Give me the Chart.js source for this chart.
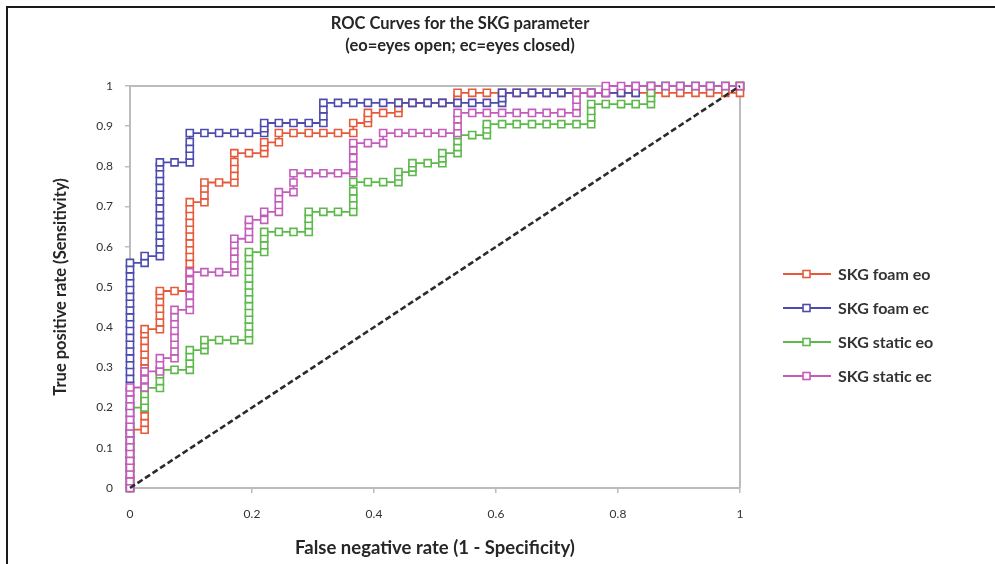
<!DOCTYPE html>
<html>
<head>
<meta charset="utf-8">
<script src="https://cdn.jsdelivr.net/npm/chart.js@4.4.1/dist/chart.umd.min.js"></script>
<style>
  html, body { margin: 0; padding: 0; background: #fff; }
  #wrap { width: 995px; height: 564px; }
</style>
</head>
<body>
<div id="wrap"><canvas id="roc" width="995" height="564"></canvas></div>
<script>

// series names / colours (legend order)
const seriesNames = ['SKG foam eo', 'SKG foam ec', 'SKG static eo', 'SKG static ec'];
const seriesColors = ['#e65a3c', '#4c4cae', '#5db94b', '#c35cba'];

// tick labels
const xTickValues = [0, 0.2, 0.4, 0.6, 0.8, 1];
const xTickLabels = ['0', '0.2', '0.4', '0.6', '0.8', '1'];
const yTickValues = [0, 0.1, 0.2, 0.3, 0.4, 0.5, 0.6, 0.7, 0.8, 0.9, 1];
const yTickLabels = ['0', '0.1', '0.2', '0.3', '0.4', '0.5', '0.6', '0.7', '0.8', '0.9', '1'];

// [false positive rate, true positive rate]
const foamEo = [
  [0,0],[0,.017],[0,.034],[0,.051],[0,.068],[0,.085],[0,.102],[0,.119],[0,.136],[0,.145],
  [.024,.145],[.024,.162],[.024,.179],[.024,.196],[.024,.213],[.024,.23],[.024,.247],[.024,.264],
  [.024,.281],[.024,.298],[.024,.315],[.024,.332],[.024,.349],[.024,.366],[.024,.383],[.024,.395],
  [.049,.395],[.049,.412],[.049,.429],[.049,.446],[.049,.463],[.049,.48],[.049,.49],
  [.073,.49],
  [.098,.49],[.098,.507],[.098,.524],[.098,.541],[.098,.558],[.098,.575],[.098,.592],[.098,.609],
  [.098,.626],[.098,.643],[.098,.66],[.098,.677],[.098,.694],[.098,.711],
  [.122,.711],[.122,.728],[.122,.745],[.122,.76],
  [.146,.76],
  [.171,.76],[.171,.777],[.171,.794],[.171,.811],[.171,.833],
  [.195,.833],
  [.22,.833],[.22,.848],[.22,.86],
  [.244,.86],[.244,.883],
  [.268,.883],[.293,.883],[.317,.883],[.341,.883],[.366,.883],[.366,.908],
  [.39,.908],[.39,.92],[.39,.933],
  [.415,.933],[.44,.933],[.44,.945],[.44,.958],
  [.463,.958],[.488,.958],[.512,.958],[.537,.958],[.537,.97],[.537,.983],
  [.561,.983],[.585,.983],[.61,.983],[.634,.983],[.659,.983],[.683,.983],[.707,.983],[.732,.983],
  [.756,.983],[.78,.983],[.805,.983],[.829,.983],[.854,.983],[.878,.983],[.902,.983],[.927,.983],
  [.951,.983],[.976,.983],[1,.983],[1,1]
];

const foamEc = [
  [0,0],[0,.017],[0,.034],[0,.051],[0,.068],[0,.085],[0,.102],[0,.119],[0,.136],[0,.153],
  [0,.17],[0,.187],[0,.204],[0,.221],[0,.238],[0,.255],[0,.272],[0,.289],[0,.306],[0,.323],
  [0,.34],[0,.357],[0,.374],[0,.391],[0,.408],[0,.425],[0,.442],[0,.459],[0,.476],[0,.493],
  [0,.51],[0,.527],[0,.544],[0,.56],
  [.024,.56],[.024,.577],
  [.049,.577],[.049,.594],[.049,.611],[.049,.628],[.049,.645],[.049,.662],[.049,.679],[.049,.696],
  [.049,.713],[.049,.73],[.049,.747],[.049,.764],[.049,.781],[.049,.798],[.049,.81],
  [.073,.81],
  [.098,.81],[.098,.827],[.098,.844],[.098,.861],[.098,.883],
  [.122,.883],[.146,.883],[.171,.883],[.195,.883],[.22,.883],[.22,.895],[.22,.908],
  [.244,.908],[.268,.908],[.293,.908],[.317,.908],[.317,.925],[.317,.942],[.317,.958],
  [.341,.958],[.366,.958],[.39,.958],[.415,.958],[.44,.958],[.463,.958],[.488,.958],[.512,.958],
  [.537,.958],[.561,.958],[.585,.958],[.61,.958],[.61,.97],[.61,.983],
  [.634,.983],[.659,.983],[.683,.983],[.707,.983],[.732,.983],[.756,.983],[.78,.983],[.805,.983],
  [.829,.983],[.829,1],
  [.854,1],[.878,1],[.902,1],[.927,1],[.951,1],[.976,1],[1,1]
];

const staticEo = [
  [0,0],[0,.05],[0,.1],[0,.15],[0,.2],
  [.024,.2],[.024,.217],[.024,.234],[.024,.249],
  [.049,.249],[.049,.266],[.049,.283],[.049,.294],
  [.073,.294],
  [.098,.294],[.098,.31],[.098,.327],[.098,.343],
  [.122,.343],[.122,.356],[.122,.368],
  [.146,.368],[.171,.368],
  [.195,.368],[.195,.385],[.195,.402],[.195,.419],[.195,.436],[.195,.453],[.195,.47],[.195,.487],
  [.195,.504],[.195,.521],[.195,.538],[.195,.555],[.195,.572],[.195,.587],
  [.22,.587],[.22,.604],[.22,.621],[.22,.637],
  [.244,.637],[.268,.637],[.293,.637],[.293,.654],[.293,.67],[.293,.687],
  [.317,.687],[.341,.687],[.366,.687],[.366,.704],[.366,.721],[.366,.738],[.366,.761],
  [.39,.761],[.415,.761],[.44,.761],[.44,.775],[.44,.786],
  [.463,.786],[.463,.797],[.463,.808],
  [.488,.808],[.512,.808],[.512,.82],[.512,.833],
  [.537,.833],[.537,.848],[.537,.863],[.537,.878],
  [.561,.878],[.585,.878],[.585,.892],[.585,.905],
  [.61,.905],[.634,.905],[.659,.905],[.683,.905],[.707,.905],[.732,.905],[.756,.905],
  [.756,.922],[.756,.938],[.756,.955],
  [.78,.955],[.805,.955],[.829,.955],[.854,.955],[.854,.97],[.854,.983],[.854,1],
  [.878,1],[.902,1],[.927,1],[.951,1],[.976,1],[1,1]
];

const staticEc = [
  [0,0],[0,.017],[0,.034],[0,.051],[0,.068],[0,.085],[0,.102],[0,.119],[0,.136],[0,.153],
  [0,.17],[0,.187],[0,.204],[0,.221],[0,.238],[0,.25],
  [.024,.25],[.024,.27],[.024,.29],
  [.049,.29],[.049,.307],[.049,.323],
  [.073,.323],[.073,.34],[.073,.357],[.073,.374],[.073,.391],[.073,.408],[.073,.425],[.073,.443],
  [.098,.443],[.098,.46],[.098,.479],[.098,.498],[.098,.517],[.098,.537],
  [.122,.537],[.146,.537],
  [.171,.537],[.171,.554],[.171,.571],[.171,.588],[.171,.605],[.171,.62],
  [.195,.62],[.195,.637],[.195,.654],[.195,.667],
  [.22,.667],[.22,.687],
  [.244,.687],[.244,.704],[.244,.721],[.244,.736],
  [.268,.736],[.268,.76],[.268,.783],
  [.293,.783],[.317,.783],[.341,.783],[.366,.783],[.366,.802],[.366,.821],[.366,.84],[.366,.858],
  [.39,.858],[.415,.858],[.415,.883],
  [.44,.883],[.463,.883],[.488,.883],[.512,.883],[.537,.883],[.537,.9],[.537,.917],[.537,.933],
  [.561,.933],[.585,.933],[.61,.933],[.634,.933],[.659,.933],[.683,.933],[.707,.933],[.732,.933],
  [.732,.95],[.732,.966],[.732,.983],
  [.756,.983],[.78,.983],[.78,1],
  [.805,1],[.829,1],[.854,1],[.878,1],[.902,1],[.927,1],[.951,1],[.976,1],[1,1]
];

// reference (chance) line
const chanceLine = [[0,0],[1,1]];

const rocSets = [foamEo, foamEc, staticEo, staticEc];

function toPoints(arr) {
    return arr.map(function(p) { return { x: p[0], y: p[1] }; });
}

const FONT = 'Lato, "Open Sans", sans-serif';

// frame, title and legend drawn around the plot
const decorPlugin = {
    id: 'decor',
    beforeDraw(chart) {
        const c = chart.ctx;
        c.save();
        c.fillStyle = '#fff';
        c.fillRect(0, 0, chart.width, chart.height);
        c.strokeStyle = '#1a1a1a';
        c.lineWidth = 2;
        c.beginPath();
        c.moveTo(7, chart.height);
        c.lineTo(7, 7);
        c.lineTo(chart.width, 7);
        c.stroke();
        c.restore();
    },
    beforeDatasetsDraw(chart) {
        const a = chart.chartArea;
        const c = chart.ctx;
        c.save();
        c.strokeStyle = '#bcbcbc';
        c.lineWidth = 2;
        c.beginPath();
        c.moveTo(a.left, a.top);
        c.lineTo(a.right, a.top);
        c.lineTo(a.right, a.bottom);
        c.stroke();
        c.restore();
    },
    afterDraw(chart) {
        const c = chart.ctx;
        c.save();
        // title
        c.fillStyle = '#262626';
        c.textAlign = 'center';
        c.textBaseline = 'middle';
        c.font = 'bold 16.5px ' + FONT;
        c.fillText('ROC Curves for the SKG parameter', 460, 24);
        c.fillText('(eo=eyes open; ec=eyes closed)', 460, 46);

        // legend
        const rows = [274, 308, 342, 376];
        c.textAlign = 'left';
        c.font = 'bold 16px ' + FONT;
        seriesNames.forEach(function(name, i) {
            const y = rows[i];
            c.strokeStyle = seriesColors[i];
            c.lineWidth = 2;
            c.beginPath();
            c.moveTo(783, y);
            c.lineTo(831, y);
            c.stroke();
            c.fillStyle = '#fff';
            c.lineWidth = 1.6;
            c.fillRect(803, y - 3.5, 7, 7);
            c.strokeRect(803, y - 3.5, 7, 7);
            c.fillStyle = '#333';
            c.fillText(name, 838, y + 1);
        });
        c.restore();
    }
};

const datasets = rocSets.map(function(pts, i) {
    return {
        label: seriesNames[i],
        data: toPoints(pts),
        showLine: true,
        borderColor: seriesColors[i],
        backgroundColor: '#fff',
        borderWidth: 1.8,
        pointStyle: 'rect',
        pointRadius: 5,
        pointBorderWidth: 1.6,
        pointBackgroundColor: '#fff',
        pointBorderColor: seriesColors[i],
        tension: 0,
        clip: false,
        order: 5 - i
    };
});

datasets.push({
    label: 'chance',
    data: toPoints(chanceLine),
    showLine: true,
    borderColor: '#2b2b2b',
    borderWidth: 2.6,
    borderDash: [6, 3],
    pointRadius: 0,
    clip: false,
    order: 0
});

new Chart(document.getElementById('roc'), {
    type: 'scatter',
    data: { datasets: datasets },
    options: {
        responsive: false,
        animation: false,
        layout: { padding: { left: 50, right: 255, top: 86, bottom: 5 } },
        plugins: {
            legend: { display: false },
            tooltip: { enabled: false },
            title: { display: false }
        },
        scales: {
            x: {
                type: 'linear',
                min: 0,
                max: 1,
                afterBuildTicks: function(s) { s.ticks = xTickValues.map(function(v) { return { value: v }; }); },
                afterFit: function(s) { s.height = 71; },
                ticks: {
                    callback: function(v, i) { return xTickLabels[i]; },
                    color: '#333',
                    font: { family: FONT, size: 12 },
                    padding: 14,
                    maxRotation: 0,
                    autoSkip: false
                },
                grid: { drawOnChartArea: false, drawTicks: true, tickLength: 5, color: '#bcbcbc', lineWidth: 1.5 },
                border: { color: '#bcbcbc', width: 2 },
                title: {
                    display: true,
                    text: 'False negative rate (1 - Specificity)',
                    color: '#262626',
                    font: { family: FONT, size: 18.5, weight: 'bold' },
                    padding: { top: 0, bottom: 0 }
                }
            },
            y: {
                type: 'linear',
                min: 0,
                max: 1,
                afterBuildTicks: function(s) { s.ticks = yTickValues.map(function(v) { return { value: v }; }); },
                afterFit: function(s) { s.width = 80; },
                ticks: {
                    callback: function(v, i) { return yTickLabels[i]; },
                    color: '#333',
                    font: { family: FONT, size: 12 },
                    padding: 12,
                    autoSkip: false
                },
                grid: { drawOnChartArea: false, drawTicks: true, tickLength: 5, color: '#bcbcbc', lineWidth: 1.5 },
                border: { color: '#bcbcbc', width: 2 },
                title: {
                    display: true,
                    text: 'True positive rate (Sensitivity)',
                    color: '#262626',
                    font: { family: FONT, size: 16.5, weight: 'bold' },
                    padding: { top: 1, bottom: 0 }
                }
            }
        }
    },
    plugins: [decorPlugin]
});
</script>
</body>
</html>
